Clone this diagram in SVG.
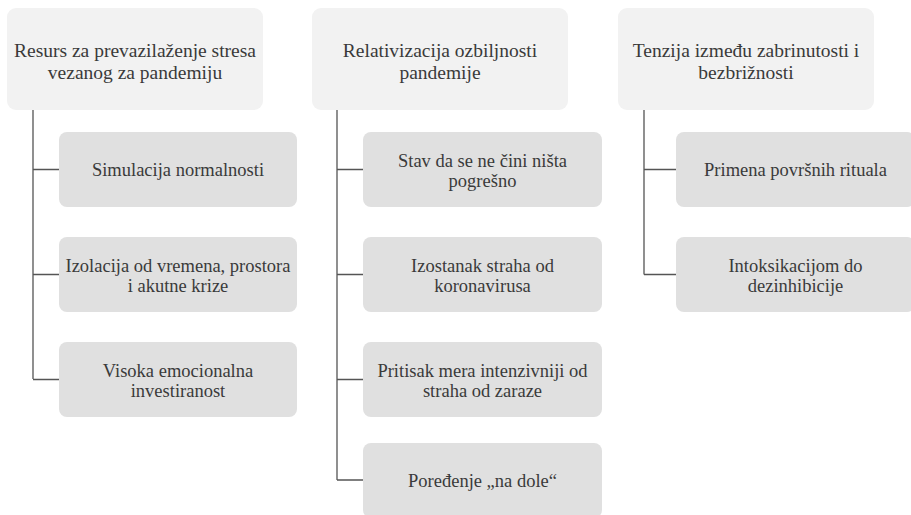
<svg xmlns="http://www.w3.org/2000/svg" width="911" height="515" viewBox="0 0 911 515">
<style>
.hdr{fill:#f2f2f2}
.box{fill:#e0e0e0}
.t{font-family:'Liberation Serif','Times New Roman','DejaVu Serif',serif;font-size:18.5px;fill:#3a3a3a;text-anchor:middle}
.h{font-size:19.5px}
.con{fill:none;stroke:#555;stroke-width:1.3}
</style>
<rect width="911" height="515" fill="#fff"/>
<g id="connectors">
<path class="con" d="M33,110 V379 M33,169.5 H59 M33,274.5 H59 M33,379.5 H59"/>
<path class="con" d="M337,110 V480 M337,169.5 H363 M337,274.5 H363 M337,379.5 H363 M337,480 H363"/>
<path class="con" d="M644,110 V274.5 M644,169.5 H676 M644,274.5 H676"/>
</g>
<g id="h1" class="t h"><rect class="hdr" x="7" y="8" width="256" height="102" rx="9"/><text x="135" y="57">Resurs za prevazilaženje stresa</text><text x="135" y="79">vezanog za pandemiju</text></g>
<g id="h2" class="t h"><rect class="hdr" x="312" y="8" width="256" height="102" rx="9"/><text x="440" y="57">Relativizacija ozbiljnosti</text><text x="440" y="79">pandemije</text></g>
<g id="h3" class="t h"><rect class="hdr" x="618" y="8" width="256" height="102" rx="9"/><text x="746" y="57">Tenzija između zabrinutosti i</text><text x="746" y="79">bezbrižnosti</text></g>
<g id="c1a" class="t"><rect class="box" x="59" y="132" width="238" height="75" rx="8"/><text x="178" y="176">Simulacija normalnosti</text></g>
<g id="c1b" class="t"><rect class="box" x="59" y="237" width="238" height="75" rx="8"/><text x="178" y="272">Izolacija od vremena, prostora</text><text x="178" y="292">i akutne krize</text></g>
<g id="c1c" class="t"><rect class="box" x="59" y="342" width="238" height="75" rx="8"/><text x="178" y="377">Visoka emocionalna</text><text x="178" y="397">investiranost</text></g>
<g id="c2a" class="t"><rect class="box" x="363" y="132" width="239" height="75" rx="8"/><text x="482.5" y="167">Stav da se ne čini ništa</text><text x="482.5" y="187">pogrešno</text></g>
<g id="c2b" class="t"><rect class="box" x="363" y="237" width="239" height="75" rx="8"/><text x="482.5" y="272">Izostanak straha od</text><text x="482.5" y="292">koronavirusa</text></g>
<g id="c2c" class="t"><rect class="box" x="363" y="342" width="239" height="75" rx="8"/><text x="482.5" y="377">Pritisak mera intenzivniji od</text><text x="482.5" y="397">straha od zaraze</text></g>
<g id="c2d" class="t"><rect class="box" x="363" y="443" width="239" height="75" rx="8"/><text x="482.5" y="487">Poređenje „na dole“</text></g>
<g id="c3a" class="t"><rect class="box" x="676" y="132" width="239" height="75" rx="8"/><text x="795.5" y="176">Primena površnih rituala</text></g>
<g id="c3b" class="t"><rect class="box" x="676" y="237" width="239" height="75" rx="8"/><text x="795.5" y="272">Intoksikacijom do</text><text x="795.5" y="292">dezinhibicije</text></g>
</svg>
